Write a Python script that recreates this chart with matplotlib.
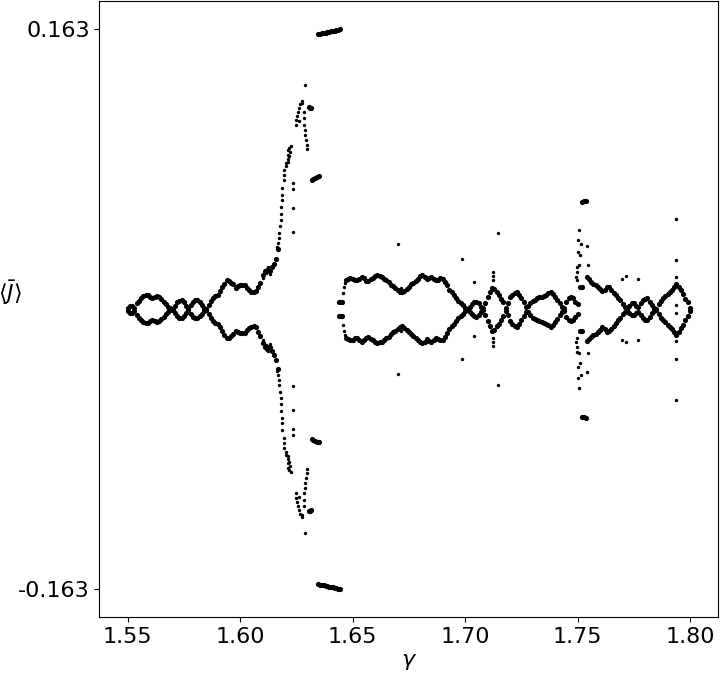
import matplotlib
matplotlib.use("Agg")
import matplotlib.pyplot as plt
import numpy as np

# upper branch <J> (units of 1e-3) on the regular gamma sweep, step 0.001
# left part: gamma 1.550 ... 1.617
left_start = 1.550
left_j = [
    1.0, 2.0, 2.0, 1.0, 3.5, 5.0, 6.5, 7.5, 8.1, 8.1,
    7.0, 6.4, 7.0, 7.5, 7.0, 5.8, 4.5, 3.0, 1.5, 0.5,
    0.3, 2.0, 4.0, 5.0, 5.2, 4.0, 2.0, 0.5, 2.5, 4.5,
    5.2, 5.2, 4.0, 2.5, 1.0, 0.3, 2.5, 5.0, 6.8, 7.8,
    8.5, 10.5, 12.8, 15.0, 16.9, 16.5, 15.3, 14.5, 12.5, 13.5,
    14.0, 14.0, 14.0, 12.2, 11.0, 10.2, 9.9, 10.5, 13.0, 15.5,
    19.8, 22.0, 23.0, 22.0, 24.4, 26.5, 29.5, 35.0,
]

# right part: gamma 1.647 ... 1.800 (nan = no point)
right_start = 1.647
right_j = [
    16.9, 17.5, 18.0, 17.9, 17.0, 16.9, 17.8, 18.8, 18.0, 16.5,
    16.3, 17.5, 18.0, 19.2, 19.8, 19.2, 18.8, 17.9, 16.9, 15.9,
    14.3, 13.5, 12.4, 11.2, 10.2, 10.0, 10.8, 11.8, 13.0, 14.5,
    15.5, 16.5, 17.8, 19.3, 19.8, 19.0, 17.5, 18.2, 18.8, 17.9,
    17.0, 17.2, 18.0, 17.9, 16.0, 14.0, 11.5, 10.0, 8.6, 6.8,
    5.0, 3.8, 2.5, 1.0,
    0.3, 1.5, 3.0, 4.2, 4.5, 3.5, 1.5, 0.5, 3.5, 7.0,
    10.0, 12.5, 12.0, 10.0, 8.5, 6.0, 4.0, 1.0, 3.5, 7.0,
    8.5, 9.5, 10.1, 8.5, 6.4, 4.0, 1.5, 1.8, 3.5, 4.8,
    5.5, 6.4, 7.0, 7.2, 7.8, 8.3, 9.3, 10.1, 9.0, 7.2,
    5.5, 3.5, 1.5, 0.8, 4.5, 6.4, 7.0, 6.5, 4.5, 3.0,
    np.nan, np.nan, np.nan,
    18.6, 17.5, 16.0, 15.0, 14.2, 13.0, 12.0, 10.5, 11.5, 13.0,
    12.8, 11.5, 9.5, 8.1, 6.5, 5.2, 3.0, 1.3, 0.3, 2.0,
    3.5, 3.5, 2.0, 1.3, 3.5, 5.2, 6.0, 6.4, 4.5, 2.3,
    1.0, 0.3, 3.0, 5.0, 6.5, 7.5, 9.0, 10.1, 11.5, 13.0,
    15.0, 13.0, 11.1, 9.0, 6.2, 4.0, 1.0,
]

# short dense segments (upper half, units of 1e-3)
bar_g = [
    1.6305, 1.6310, 1.6315,
    1.6318, 1.6326, 1.6334, 1.6342, 1.6350,
    1.6348, 1.6356, 1.6364, 1.6372, 1.6380, 1.6388, 1.6396,
    1.6404, 1.6412, 1.6420, 1.6428, 1.6436, 1.6446,
    1.6441, 1.6448, 1.6455,
    1.7520, 1.7529, 1.7538, 1.7511, 1.7520,
]
bar_j = [
    117.5, 117.2, 117.0,
    75.5, 76.0, 76.5, 77.0, 77.4,
    160.1, 160.3, 160.6, 160.8, 161.0, 161.3, 161.5,
    161.8, 162.0, 162.2, 162.5, 162.7, 163.0,
    4.1, 4.1, 4.1,
    62.5, 62.9, 63.2, 12.8, 12.8,
]

# scattered / off-grid samples (upper half, units of 1e-3)
extra_g = [
    1.6104, 1.6113, 1.6122, 1.6131, 1.6139,
    1.6166, 1.6170, 1.6175, 1.6175, 1.6179, 1.6184, 1.6184, 1.6184,
    1.6188, 1.6188, 1.6188, 1.6193, 1.6197, 1.6197, 1.6202, 1.6206,
    1.6211, 1.6211, 1.6215, 1.6219, 1.6224, 1.6219, 1.6228, 1.6215,
    1.6250, 1.6250, 1.6255, 1.6259, 1.6264, 1.6268, 1.6273, 1.6264, 1.6277,
    1.6282, 1.6286, 1.6286, 1.6290, 1.6290, 1.6295, 1.6299, 1.6299,
    1.6290, 1.6237, 1.6237, 1.6237, 1.6237,
    1.6459, 1.6464, 1.6468,
    1.6703, 1.6717, 1.6988, 1.7041, 1.7125, 1.7125, 1.7125, 1.7147,
    1.7507, 1.7504, 1.7514, 1.7504, 1.7511, 1.7499, 1.7507, 1.7497,
    1.7497, 1.7494, 1.7541, 1.7545,
    1.7699, 1.7717, 1.7770,
    1.7937, 1.7937, 1.7937, 1.7937,
]
extra_j = [
    18.0, 21.0, 24.5, 20.5, 22.0,
    36.1, 38.4, 41.3, 44.2, 48.3, 51.8, 55.3, 59.4,
    63.4, 66.4, 70.4, 75.1, 78.0, 80.9, 83.2, 85.0,
    87.3, 89.6, 92.5, 93.7, 91.4, 89.1, 94.9, 85.6,
    107.1, 110.0, 112.3, 114.7, 117.0, 119.3, 121.1, 109.4, 119.9,
    114.7, 111.2, 107.1, 104.2, 101.3, 98.4, 95.5, 93.1,
    130.4, 73.3, 69.8, 58.8, 44.8,
    9.3, 12.8, 15.1,
    37.8, 12.6, 29.1, 15.7, 21.5, 19.2, 17.0, 44.2,
    46.0, 40.2, 38.2, 33.4, 31.4, 24.6, 25.6, 21.7,
    16.9, 19.0, 36.7, 25.6,
    17.9, 19.2, 17.9,
    52.8, 28.9, 18.5, 2.3,
]

g_left = left_start + 0.001 * np.arange(len(left_j))
g_right = right_start + 0.001 * np.arange(len(right_j))

g_curve = np.concatenate([g_left, g_right, bar_g])
j_curve = np.concatenate([left_j, right_j, bar_j]) * 1e-3
g_pts = np.array(extra_g)
j_pts = np.array(extra_j) * 1e-3

fig = plt.figure(figsize=(7.21, 6.76), dpi=100)
ax = fig.add_axes([0.138, 0.087, 0.858, 0.911])

# the attractor is symmetric: both signs of <J>
for sign in (1, -1):
    ax.scatter(g_curve, sign * j_curve, s=14, c='black', marker='o', linewidths=0)
    ax.scatter(g_pts, sign * j_pts, s=6, c='black', marker='o', linewidths=0)

jmax = np.nanmax(np.concatenate([j_curve, j_pts]))
ax.set_yticks([-jmax, jmax])
ax.set_yticklabels([f'{-jmax:.3f}', f'{jmax:.3f}'])
ax.set_xticks([1.55, 1.60, 1.65, 1.70, 1.75, 1.80])
ax.tick_params(labelsize=16)

ax.set_xlabel(r'$\gamma$', fontsize=16)
ax.set_ylabel(r'$\langle\bar{J}\rangle$', fontsize=16, rotation=0,
              ha='center', va='center')
ax.yaxis.set_label_coords(-0.144, 0.526)

fig.savefig('out.png', dpi=100)
